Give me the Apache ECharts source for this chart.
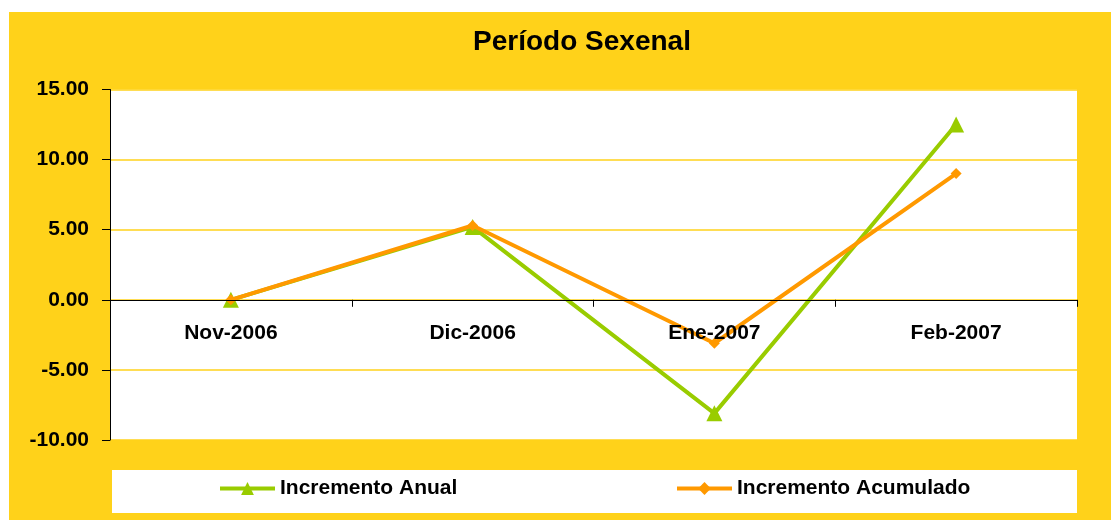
<!DOCTYPE html>
<html>
<head>
<meta charset="utf-8">
<script src="https://cdn.jsdelivr.net/npm/echarts@6/dist/echarts.min.js"></script>
<style>
  html, body { margin: 0; padding: 0; background: #fff; }
  #chart { width: 1111px; height: 520px; }
</style>
</head>
<body>
<div id="chart"></div>
<script>
// datos
const categories = ["Nov-2006", "Dic-2006", "Ene-2007", "Feb-2007"];
const incrementoAnual = [0, 5.2, -8.1, 12.5];
const incrementoAcumulado = [0, 5.3, -3.1, 9.0];

const fontFamily = "Arial, 'Liberation Sans', sans-serif";
const amarillo = "#FFD21A";
const verde = "#99CC00";
const naranja = "#FF9900";

const yMin = -10;
const yMax = 15;
const gridTop = 89.5;
const gridHeight = 350.5;
// el eje X va sobre el cero: desplazamiento desde el borde inferior
const xOffset = -gridHeight * (0 - yMin) / (yMax - yMin);

let myChart = echarts.init(document.getElementById("chart"));

let option = {
  backgroundColor: "#fff",
  animation: false,
  graphic: [
    {
      type: "rect",
      z: -10,
      shape: { x: 9, y: 12, width: 1102, height: 508 },
      style: { fill: amarillo },
    },
    {
      // caja blanca de la leyenda
      type: "rect",
      z: -9,
      shape: { x: 112, y: 470, width: 965, height: 43 },
      style: { fill: "#fff" },
    },
  ],
  title: {
    text: "Período Sexenal",
    left: 577,
    textAlign: "center",
    top: 23,
    textStyle: { fontFamily: fontFamily, fontSize: 28, fontWeight: "bold", color: "#000" },
  },
  legend: [
    {
      data: ["Incremento Anual"],
      left: 218,
      top: 478,
      padding: 0,
      itemWidth: 55,
      itemHeight: 16,
      itemGap: 5,
      lineStyle: { width: 4 },
      textStyle: { fontFamily: fontFamily, fontSize: 21, fontWeight: "bold", color: "#000" },
    },
    {
      data: ["Incremento Acumulado"],
      left: 675,
      top: 478,
      padding: 0,
      itemWidth: 55,
      itemHeight: 16,
      lineStyle: { width: 4 },
      textStyle: { fontFamily: fontFamily, fontSize: 21, fontWeight: "bold", color: "#000" },
    },
  ],
  grid: {
    left: 110,
    right: 34,
    top: gridTop,
    height: gridHeight,
    show: true,
    backgroundColor: "#fff",
    borderWidth: 0,
  },
  xAxis: {
    type: "category",
    data: categories,
    boundaryGap: true,
    offset: xOffset,
    z: 5,
    axisLine: { onZero: false, lineStyle: { color: "#000", width: 1 } },
    axisTick: { show: true, length: 7, lineStyle: { color: "#000" } },
    axisLabel: {
      margin: 23,
      fontFamily: fontFamily,
      fontSize: 21,
      fontWeight: "bold",
      color: "#000",
    },
  },
  yAxis: {
    type: "value",
    min: yMin,
    max: yMax,
    interval: 5,
    axisLine: { show: true, lineStyle: { color: "#000", width: 1 } },
    axisTick: { show: true, length: 8, lineStyle: { color: "#000" } },
    axisLabel: {
      margin: 21,
      formatter: (v) => v.toFixed(2),
      fontFamily: fontFamily,
      fontSize: 21,
      fontWeight: "bold",
      color: "#000",
    },
    splitLine: { show: true, lineStyle: { color: amarillo, width: 1.5 } },
  },
  series: [
    {
      name: "Incremento Anual",
      type: "line",
      data: incrementoAnual,
      color: verde,
      symbol: "triangle",
      symbolSize: 16,
      lineStyle: { width: 4, color: verde },
      itemStyle: { color: verde },
      z: 2,
    },
    {
      name: "Incremento Acumulado",
      type: "line",
      data: incrementoAcumulado,
      color: naranja,
      symbol: "diamond",
      symbolSize: 11,
      lineStyle: { width: 4, color: naranja },
      itemStyle: { color: naranja },
      z: 3,
    },
  ],
};

myChart.setOption(option);
</script>
</body>
</html>
